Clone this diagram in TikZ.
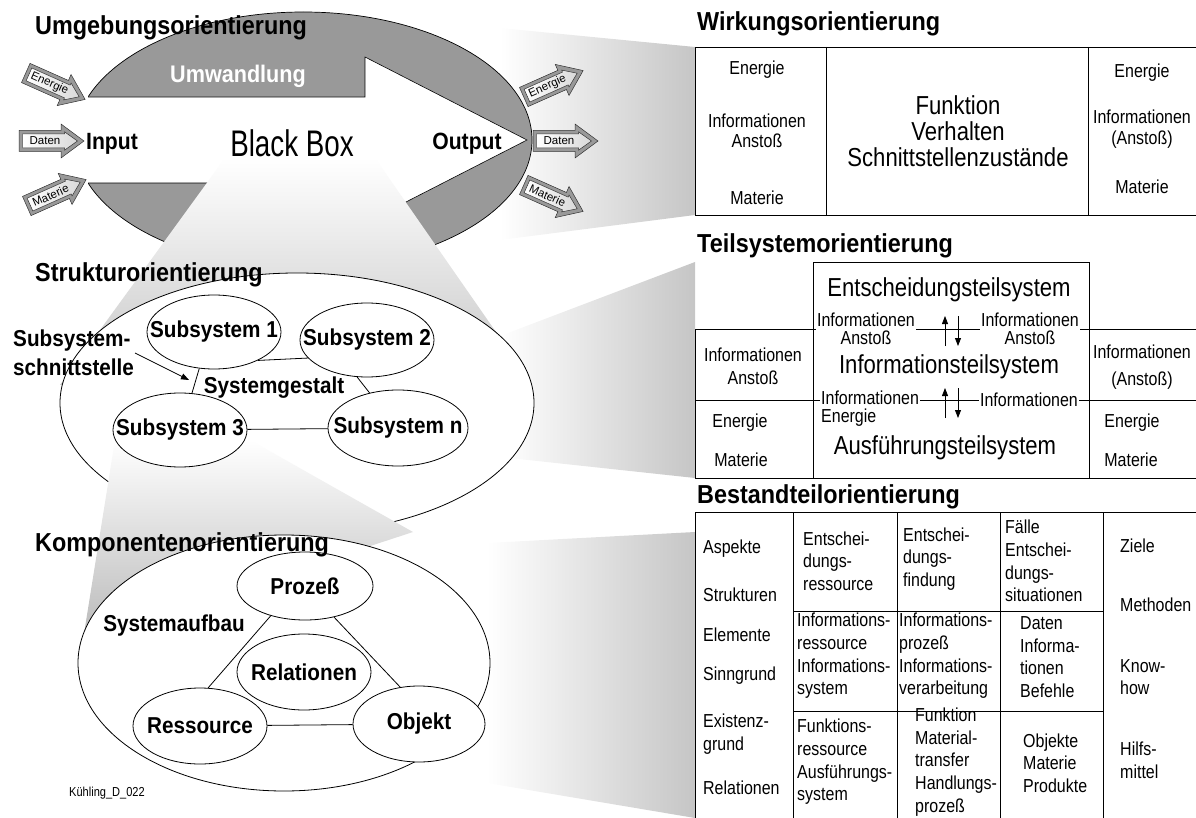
\documentclass[tikz,border=0pt]{standalone}
\usepackage{fontspec}
\setmainfont{Liberation Sans}[FakeStretch=0.85]
\newfontfamily\boldface{Liberation Sans}[FakeStretch=0.9]
\newfontfamily\tallface{Liberation Sans}[FakeStretch=0.75]
\newfontfamily\plainface{Liberation Sans}
\usetikzlibrary{shapes.geometric,arrows.meta}

% block arrow with a grey rim and a lettered, shaded core:
% #1 name of the label, #2 centre, #3 angle, #4 label
\newcommand\ioarrow[4]{%
  \begin{scope}[shift={#2}, rotate=#3]
    \draw[fill=gray!80, draw=black!80, line width=0.5pt]
      (-32,-10.5) -- (10,-10.5) -- (10,-17) -- (33,0) -- (10,17) -- (10,10.5) -- (-32,10.5) -- cycle;
    \shadedraw[left color=white, right color=gray!30, draw=black!80, line width=0.5pt]
      (-28.5,-7) -- (13.5,-7) -- (13.5,-9.2) -- (26.5,0) -- (13.5,9.2) -- (13.5,7) -- (-28.5,7) -- cycle;
    \node[font=\fontsize{11.5}{12}\selectfont\plainface, inner sep=0pt, rotate=#3] (#1) at (-6,0) {#4};
  \end{scope}}

\begin{document}
\begin{tikzpicture}[x=1pt,y=-1pt,
  ttl/.style={font=\fontsize{26}{30}\selectfont\boldface\bfseries, anchor=base west, inner sep=0pt},
  txt/.style={font=\fontsize{18.8}{22.5}\selectfont, inner sep=0pt, align=center},
  lft/.style={font=\fontsize{18.8}{22.6}\selectfont, inner sep=0pt, align=left, anchor=west},
  bigtxt/.style={font=\fontsize{26}{26}\selectfont, inner sep=0pt, align=center},
  bld/.style={font=\fontsize{23}{29}\selectfont\boldface\bfseries, inner sep=0pt},
  part/.style={ellipse, draw, fill=white, line width=0.8pt, inner sep=0pt,
     font=\fontsize{23}{27}\selectfont\boldface\bfseries},
  frame/.style={ellipse, draw, fill=white, line width=0.8pt, inner sep=0pt},
  conn/.style={line width=0.8pt},
  rule/.style={line width=0.9pt},
  flow/.style={-{Stealth[length=8pt,width=6pt,inset=0pt]}, line width=0.8pt},
  lbl/.style={font=\fontsize{18.8}{18}\selectfont, inner sep=1pt, fill=white, align=center},
]
\useasboundingbox (0,0) rectangle (1196,818);

% ---------- shaded bands leading to the tables
\shade[left color=white, right color=gray!45] (500,28) -- (695,47) -- (695,215) -- (500,240) -- cycle;
\shade[left color=white, right color=gray!45] (500,336) -- (695,262) -- (695,478) -- (500,457) -- cycle;
\shade[left color=white, right color=gray!45] (487,543) -- (695,532) -- (695,818) -- (487,783) -- cycle;

% ---------- environment view: grey ring and transformation arrow
\begin{scope}
  \clip (88,0) rectangle (600,300);
  \draw[fill=gray!80, line width=0.7pt] (303.4,140) ellipse [x radius=228.6, y radius=128];
\end{scope}
\draw[fill=white, line width=0.6pt] (88,97) -- (365,97) -- (365,57) -- (527,140)
  -- (365,223) -- (365,183) -- (88,183);

\node[font=\fontsize{24}{28}\selectfont\boldface\bfseries, text=white, inner sep=0pt] (umw) at (238,76) {Umwandlung};
\node[font=\fontsize{23.5}{28}\selectfont\boldface\bfseries, inner sep=0pt] (inp) at (112,144) {Input};
\node[font=\fontsize{23.5}{28}\selectfont\boldface\bfseries, inner sep=0pt] (outp) at (467,144) {Output};

% funnel from the black box down to the structure view
\shade[top color=white, bottom color=gray!45] (225,158) -- (375,158) -- (505,345) -- (60,385) -- cycle;
\node[font=\fontsize{37}{40}\selectfont\tallface, inner sep=0pt] (bb) at (292,143) {Black Box};

% ---------- structure view
\node[frame, minimum width=474pt, minimum height=260pt] (struct) at (297,403) {};

% funnel from subsystem 3 down to the component view
\shade[top color=white, bottom color=gray!55] (115,440) -- (250,440) -- (413,532) -- (83,640) -- cycle;

\node[part, minimum width=134pt, minimum height=74pt] (s1) at (214,332) {\makebox[0pt]{Subsystem 1}};
\node[part, minimum width=134pt, minimum height=74pt] (s2) at (367,340) {\makebox[0pt]{Subsystem 2}};
\node[part, minimum width=134pt, minimum height=74pt] (s3) at (180,430) {\makebox[0pt]{Subsystem 3}};
\node[part, minimum width=140pt, minimum height=76pt] (sn) at (398,428) {\makebox[0pt]{Subsystem n}};
\draw[conn] (s1.-33) -- (s2.197);
\draw[conn] (s1.-112) -- (s3.72);
\draw[conn] (s2.-105) -- (sn.129);
\draw[conn] (s3) -- (sn);
\node[bld] (gest) at (274,388) {Systemgestalt};
\node[bld, align=left, anchor=west] (ssl) at (13,353) {Subsystem-\\schnittstelle};
\coordinate (ssa) at (135,353);
\coordinate (ssb) at (189,380);
\draw[flow] (ssa) -- (ssb);

% ---------- component view
\node[frame, minimum width=412pt, minimum height=256pt] (comp) at (284,663) {};
\node[part, minimum width=136pt, minimum height=68pt] (proz) at (305,586) {\makebox[0pt]{Prozeß}};
\node[part, minimum width=134pt, minimum height=76pt] (rel) at (304,672) {\makebox[0pt]{Relationen}};
\node[part, minimum width=134pt, minimum height=76pt] (res) at (200,726) {\makebox[0pt]{Ressource}};
\node[part, minimum width=132pt, minimum height=76pt] (obj) at (419,724) {\makebox[0pt]{Objekt}};
\draw[conn] (proz.221) -- (res.78);
\draw[conn] (proz.-47) -- (obj.117);
\draw[conn] (res) -- (obj);
\node[bld] (aufbau) at (174,626) {Systemaufbau};
\node[font=\fontsize{13}{14}\selectfont, inner sep=0pt] (ref) at (107,793) {Kühling\_D\_022};

% ---------- section titles
\node[ttl] (t1) at (35,35) {Umgebungsorientierung};
\node[ttl] (t2) at (35,282) {Strukturorientierung};
\node[ttl] (t3) at (35,551) {Komponentenorientierung};
\node[ttl] (t4) at (697,31) {Wirkungsorientierung};
\node[ttl] (t5) at (697,253) {Teilsystemorientierung};
\node[ttl] (t6) at (697,503) {Bestandteilorientierung};

% ---------- input and output arrows
\ioarrow{inE}{(55,86)}{-24}{Energie}
\ioarrow{inD}{(51,141)}{0}{Daten}
\ioarrow{inM}{(56,193)}{24}{Materie}
\ioarrow{outE}{(553,84)}{24}{Energie}
\ioarrow{outD}{(565,141)}{0}{Daten}
\ioarrow{outM}{(553,198)}{-24}{Materie}

% ---------- effect table
\draw[rule] (1196,47) -- (695,47) -- (695,215) -- (1196,215);
\draw[rule] (826,47) -- (826,215);
\draw[rule] (1088,47) -- (1088,215);
\node[txt] (w1) at (757,70) {Energie};
\node[txt] (w2) at (757,131) {Informationen\\[-2pt]Anstoß};
\node[txt] (w3) at (757,198) {Materie};
\node[bigtxt] (w4) at (958,131) {Funktion\\Verhalten\\Schnittstellenzustände};
\node[txt] (w5) at (1142,73) {Energie};
\node[txt] (w6) at (1142,129) {Informationen\\[-1pt](Anstoß)};
\node[txt] (w7) at (1142,187) {Materie};

% ---------- subsystem table
\draw[rule] (813,262) rectangle (1089,478);
\draw[rule] (1196,329) -- (695,329) -- (695,478) -- (1196,478);
\draw[rule] (695,400) -- (1196,400);
\node[bigtxt] (ts1) at (949,290) {Entscheidungsteilsystem};
\node[bigtxt] (ts2) at (949,367) {Informationsteilsystem};
\node[bigtxt] (ts3) at (945,448) {Ausführungsteilsystem};
\node[lbl] (il1) at (866,329) {Informationen\\Anstoß};
\node[lbl] (ir1) at (1030,329) {Informationen\\Anstoß};
\node[lbl, align=left, anchor=west] (il2) at (820,409) {Informationen\\Energie};
\node[lbl] (ir2) at (1029,400) {Informationen};
\coordinate (a1) at (945,346); \coordinate (a2) at (945,316);
\coordinate (b1) at (958,316); \coordinate (b2) at (958,346);
\coordinate (c1) at (945,418); \coordinate (c2) at (945,388);
\coordinate (d1) at (958,388); \coordinate (d2) at (958,418);
\draw[flow] (a1) -- (a2);
\draw[flow] (b1) -- (b2);
\draw[flow] (c1) -- (c2);
\draw[flow] (d1) -- (d2);
\node[txt] (tl1) at (753,366) {Informationen\\[0.5pt]Anstoß};
\node[txt] (tl2) at (740,423) {Energie};
\node[txt] (tl3) at (741,460) {Materie};
\node[txt] (tr1) at (1142,367) {Informationen\\[4pt](Anstoß)};
\node[txt] (tr2) at (1132,423) {Energie};
\node[txt] (tr3) at (1131,460) {Materie};

% ---------- constituent table
\draw[rule] (695,818) -- (695,512) -- (1196,512);
\foreach \cx in {793,897,1000,1103} \draw[rule] (\cx,512) -- (\cx,818);
\draw[rule] (793,611) -- (1103,611);
\draw[rule] (793,711) -- (1103,711);

\node[lft] (c11) at (703,549) {Aspekte};
\node[lft] (c12) at (703,595) {Strukturen};
\node[lft] (c13) at (703,635) {Elemente};
\node[lft] (c14) at (703,676) {Sinngrund};
\node[lft] (c15) at (703,734) {Existenz-\\grund};
\node[lft] (c16) at (703,788) {Relationen};

\node[lft] (c21) at (803,561) {Entschei-\\dungs-\\ressource};
\node[lft] (c22) at (797,656) {Informations-\\ressource\\Informations-\\system};
\node[lft] (c23) at (797,762) {Funktions-\\ressource\\Ausführungs-\\system};

\node[lft] (c31) at (903,559) {Entschei-\\dungs-\\findung};
\node[lft] (c32) at (899,656) {Informations-\\prozeß\\Informations-\\verarbeitung};
\node[lft] (c33) at (915,762) {Funktion\\Material-\\transfer\\Handlungs-\\prozeß};

\node[lft] (c41) at (1005,561) {Fälle\\Entschei-\\dungs-\\situationen};
\node[lft] (c42) at (1020,657) {Daten\\Informa-\\tionen\\Befehle};
\node[lft] (c43) at (1023,763) {Objekte\\Materie\\Produkte};

\node[lft] (c51) at (1120,546) {Ziele};
\node[lft] (c52) at (1120,605) {Methoden};
\node[lft] (c53) at (1120,677) {Know-\\how};
\node[lft] (c54) at (1120,760) {Hilfs-\\mittel};
\end{tikzpicture}
\end{document}
